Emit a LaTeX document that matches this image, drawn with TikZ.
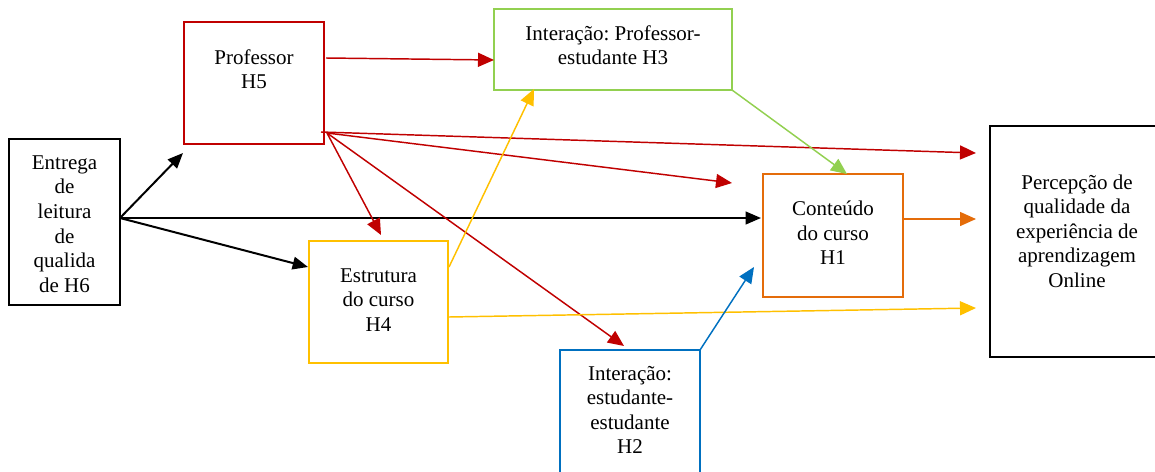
\documentclass[tikz,border=0pt]{standalone}
\usepackage{fontspec}
\setmainfont{Liberation Serif}
\usetikzlibrary{arrows.meta}
\definecolor{hred}{HTML}{C00000}
\definecolor{hgreen}{HTML}{92D050}
\definecolor{hyellow}{HTML}{FFC000}
\definecolor{horange}{HTML}{E46C0A}
\definecolor{hblue}{HTML}{0070C0}
\frenchspacing
\begin{document}
\begin{tikzpicture}[x=0.75pt,y=-0.75pt,
  box/.style={draw=#1, line width=1.2pt, fill=none, inner sep=0pt},
  txt/.style={align=center, inner sep=0pt, font=\fontsize{15.75}{18.4}\selectfont},
  arr/.style={draw=#1, line width=1.1pt, -{Triangle[length=12pt,width=10.5pt]}},
  blk/.style={draw=black, line width=1.5pt, -{Triangle[length=11.5pt,width=9.5pt]}}]
\useasboundingbox (0,0) rectangle (1155,471);

% boxes
\node[box=black, line width=1.5pt, minimum width=83.25pt, minimum height=124.5pt] (ent) at (64.5,222) {};
\node[box=hred, minimum width=105pt, minimum height=91.5pt] (prof) at (254,83) {};
\node[box=hgreen, minimum width=178.5pt, minimum height=60.75pt] (ips) at (613,49.5) {};
\node[box=hyellow, minimum width=104.25pt, minimum height=91.5pt] (est) at (378.5,302) {};
\node[box=horange, minimum width=105pt, minimum height=92.25pt] (con) at (833,235.5) {};
\node[box=black, line width=1.5pt, minimum width=131.25pt, minimum height=173.25pt] (per) at (1077.5,241.5) {};
\node[box=hblue, minimum width=105pt, minimum height=92.25pt] (iee) at (630,411.5) {};

% texts
\node[txt] (entT) at (64.5,224) {Entrega\\de\\leitura\\de\\qualida\\de H6};
\node[txt] (profT) at (254,69) {Professor\\H5};
\node[txt] (ipsT) at (613,45) {Interação: Professor-\\estudante H3};
\node[txt] (estT) at (378.5,300) {Estrutura\\do curso\\H4};
\node[txt] (conT) at (833,233) {Conteúdo\\do curso\\H1};
\node[txt] (perT) at (1077,231) {Percepção de\\qualidade da\\experiência de\\aprendizagem\\Online};
\node[txt] (ieeT) at (630,410) {Interação:\\estudante-\\estudante\\H2};

% connector end points
\coordinate (e0) at (120,218);
\coordinate (p0) at (326,58);
\coordinate (p1) at (321,132);
\coordinate (p2) at (327,133);
\coordinate (s0) at (449,267);
\coordinate (s1) at (449,317);
\coordinate (c0) at (903,219);
\coordinate (i0) at (732,90);
\coordinate (b0) at (700,350);
\coordinate (tProf) at (183,153);
\coordinate (tEst) at (308,267);
\coordinate (tCon) at (761,218);
\coordinate (tIps) at (494,60);
\coordinate (tPer1) at (976,153);
\coordinate (tMid) at (732,183);
\coordinate (tEst2) at (381,235);
\coordinate (tIee) at (624,346);
\coordinate (tIps2) at (534,89);
\coordinate (tPer2) at (976,308);
\coordinate (tCon2) at (847,174);
\coordinate (tPer3) at (976,219);
\coordinate (tCon3) at (754,267);

% black
\draw[blk] (e0) -- (tProf);
\draw[blk] (e0) -- (tCon);
\draw[blk] (e0) -- (tEst);
% red
\draw[arr=hred] (p0) -- (tIps);
\draw[arr=hred] (p1) -- (tPer1);
\draw[arr=hred] (p2) -- (tMid);
\draw[arr=hred] (p2) -- (tEst2);
\draw[arr=hred] (p2) -- (tIee);
% yellow
\draw[arr=hyellow] (s0) -- (tIps2);
\draw[arr=hyellow] (s1) -- (tPer2);
% green
\draw[arr=hgreen] (i0) -- (tCon2);
% orange
\draw[arr=horange] (c0) -- (tPer3);
% blue
\draw[arr=hblue] (b0) -- (tCon3);
\end{tikzpicture}
\end{document}
